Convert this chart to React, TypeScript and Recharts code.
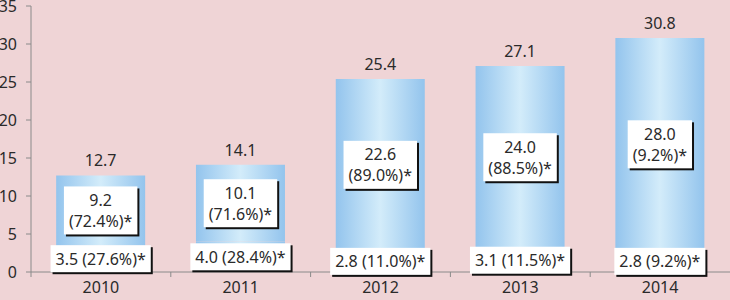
import React from 'react';
import { BarChart, Bar, XAxis, YAxis, LabelList } from 'recharts';

const years = ['2010', '2011', '2012', '2013', '2014'];
const baseValues = [3.5, 4.0, 2.8, 3.1, 2.8];
const baseShares = ['27.6', '28.4', '11.0', '11.5', '9.2'];
const topValues = [9.2, 10.1, 22.6, 24.0, 28.0];
const topShares = ['72.4', '71.6', '89.0', '88.5', '9.2'];
const totals = [12.7, 14.1, 25.4, 27.1, 30.8];
const yTicks = [0, 5, 10, 15, 20, 25, 30, 35];

const data = years.map((year, i) => ({
  year,
  base: baseValues[i],
  top: topValues[i],
  total: totals[i],
}));

const FONT = '"Noto Sans", sans-serif';
const FS = 16;
const TEXT = '#2a2a2a';
const AXIS = '#8a8a8a';
const BG = '#efd4d6';

let ctx: CanvasRenderingContext2D | null = null;
function textWidth(s: string): number {
  if (!ctx) ctx = document.createElement('canvas').getContext('2d');
  if (!ctx) return s.length * FS * 0.55;
  ctx.font = `${FS}px "Noto Sans"`;
  return ctx.measureText(s).width;
}

function Box({ cx, cy, lines }: { cx: number; cy: number; lines: string[] }) {
  const padX = 5;
  const padY = 3;
  const lineH = 21;
  const w = Math.max(...lines.map(textWidth)) + padX * 2;
  const h = lines.length * lineH + padY * 2;
  const x0 = cx - w / 2;
  const y0 = cy - h / 2;
  return (
    <g>
      <rect x={x0 + 2} y={y0 + 2} width={w} height={h} fill="#111" />
      <rect x={x0} y={y0} width={w} height={h} fill="#fff" />
      {lines.map((l, i) => (
        <text
          key={i}
          x={cx}
          y={y0 + padY + lineH * i + lineH / 2}
          textAnchor="middle"
          dominantBaseline="central"
          fontFamily={FONT}
          fontSize={FS}
          fill={TEXT}
        >
          {l}
        </text>
      ))}
    </g>
  );
}

const BaseLabel = (props: any) => {
  const { x, y, width, height, index } = props;
  const cx = Number(x) + Number(width) / 2;
  const cy = Number(y) + Number(height) / 2;
  return <Box cx={cx} cy={cy} lines={[`${baseValues[index].toFixed(1)} (${baseShares[index]}%)*`]} />;
};

const TopLabel = (props: any) => {
  const { x, y, width, height, index } = props;
  const cx = Number(x) + Number(width) / 2;
  const cy = Number(y) + Number(height) / 2;
  return <Box cx={cx} cy={cy} lines={[topValues[index].toFixed(1), `(${topShares[index]}%)*`]} />;
};

const XTick = (props: any) => {
  const { x, y, payload } = props;
  const off = payload && payload.offset ? payload.offset : 0;
  const axisY = y - 8;
  return (
    <g>
      <line x1={x - off} x2={x - off} y1={axisY} y2={axisY + 5} stroke={AXIS} />
      <text x={x} y={y + 7} textAnchor="middle" dominantBaseline="central" fontFamily={FONT} fontSize={FS} fill={TEXT}>
        {payload.value}
      </text>
    </g>
  );
};

export default function App() {
  return (
    <div style={{ position: 'fixed', left: 0, top: 0, width: 730, height: 300, background: BG }}>
      <BarChart
        width={730}
        height={300}
        data={data}
        margin={{ top: 6, right: 0, left: 0, bottom: 0 }}
        barCategoryGap="18%"
      >
        <defs>
          <linearGradient id="barGrad" x1="0" y1="0" x2="1" y2="0">
            <stop offset="0%" stopColor="#93c4ed" />
            <stop offset="50%" stopColor="#d3ecfa" />
            <stop offset="100%" stopColor="#93c4ed" />
          </linearGradient>
        </defs>
        <XAxis
          dataKey="year"
          height={28}
          tickSize={6}
          tickMargin={2}
          tickLine={false}
          axisLine={{ stroke: AXIS }}
          tick={<XTick />}
          interval={0}
        />
        <YAxis
          width={31}
          domain={[0, 35]}
          ticks={yTicks}
          interval={0}
          tickSize={5}
          tickMargin={9}
          axisLine={{ stroke: AXIS }}
          tickLine={{ stroke: AXIS }}
          tick={{ fill: TEXT, fontSize: FS, fontFamily: FONT }}
        />
        <Bar dataKey="base" stackId="a" fill="url(#barGrad)" isAnimationActive={false}>
          <LabelList dataKey="base" content={<BaseLabel />} />
        </Bar>
        <Bar dataKey="top" stackId="a" fill="url(#barGrad)" isAnimationActive={false}>
          <LabelList dataKey="top" content={<TopLabel />} />
          <LabelList
            dataKey="total"
            position="top"
            offset={9}
            formatter={(v: any) => Number(v).toFixed(1)}
            fill={TEXT}
            fontSize={FS}
            fontFamily={FONT}
          />
        </Bar>
      </BarChart>
    </div>
  );
}
